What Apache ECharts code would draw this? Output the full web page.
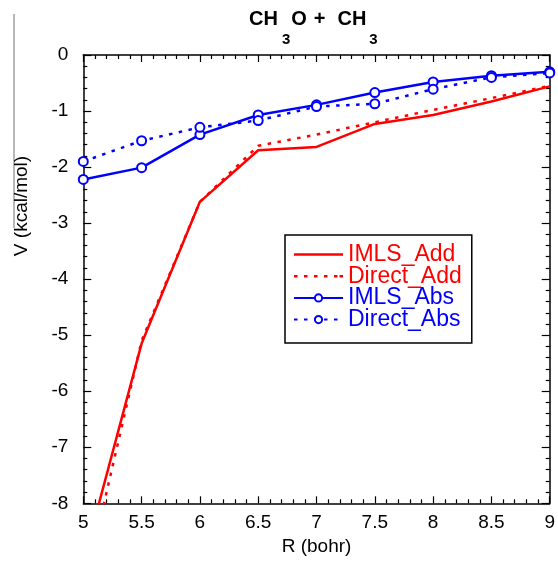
<!DOCTYPE html>
<html><head><meta charset="utf-8">
<script src="https://cdn.jsdelivr.net/npm/echarts@6/dist/echarts.min.js"></script>
<style>html,body{margin:0;padding:0;background:#fff}#c{width:558px;height:562px}</style>
</head><body><div id="c"></div>
<script>
// ---- data ----
const R = [5, 5.5, 6, 6.5, 7, 7.5, 8, 8.5, 9];
const imlsAdd   = [-9.05, -5.15, -2.62, -1.70, -1.64, -1.23, -1.07, -0.83, -0.56];
const directAdd = [-9.6, -5.1, -2.62, -1.62, -1.42, -1.20, -0.98, -0.77, -0.55];
const imlsAbs   = [-2.22, -2.01, -1.42, -1.07, -0.89, -0.67, -0.48, -0.37, -0.30];
const directAbs = [-1.90, -1.53, -1.29, -1.17, -0.92, -0.87, -0.61, -0.40, -0.32];
const seriesNames = ['IMLS_Add', 'Direct_Add', 'IMLS_Abs', 'Direct_Abs'];
const xTitle = 'R (bohr)';
const yTitle = 'V (kcal/mol)';

const FONT = 'Liberation Sans, Arial, sans-serif';
const RED = '#ff0000', BLUE = '#0000ff';
const pair = (ys) => R.map((x, i) => [x, ys[i]]);

const SOLID_ICON = 'path://M0,0H49V2.5H0Z';
const DOT_ICON = 'path://M0,0h3.5v2.5h-3.5z M10,0h3.5v2.5h-3.5z M20,0h3.5v2.5h-3.5z M30,0h3.5v2.5h-3.5z M40,0h3.5v2.5h-3.5z M45.5,0h3.5v2.5h-3.5z';

function xAx(pos, labels) {
  return {
    type: 'value', position: pos, min: 5, max: 9, interval: 0.5,
    axisLine: { show: true, onZero: false, lineStyle: { color: '#000', width: 1.5 } },
    axisTick: { show: true, inside: true, length: 7, lineStyle: { color: '#000', width: 1.2 } },
    minorTick: { show: true, splitNumber: 5, length: 4, lineStyle: { color: '#000', width: 1.2 } },
    splitLine: { show: false },
    axisLabel: { show: labels, margin: 10, fontSize: 19, color: '#000', fontFamily: FONT },
    name: labels ? xTitle : '', nameLocation: 'middle', nameGap: 33,
    nameTextStyle: { fontSize: 19, color: '#000', fontFamily: FONT }
  };
}
function yAx(pos, labels) {
  return {
    type: 'value', position: pos, min: -8, max: 0, interval: 1,
    axisLine: { show: true, onZero: false, lineStyle: { color: '#000', width: 1.5 } },
    axisTick: { show: true, inside: true, length: 8, lineStyle: { color: '#000', width: 1.2 } },
    minorTick: { show: true, splitNumber: 5, length: 4, lineStyle: { color: '#000', width: 1.2 } },
    splitLine: { show: false },
    axisLabel: { show: labels, margin: 15, fontSize: 19, color: '#000', fontFamily: FONT, padding: [0, 0, 7, 0] }
  };
}

const chart = echarts.init(document.getElementById('c'), null, { renderer: 'canvas' });
chart.setOption({
  animation: false,
  backgroundColor: '#fff',
  title: {
    text: '{m|CH}{s|3}{m|O}{p|+}{m|CH}{t|3}',
    left: 249, top: 9, padding: 0,
    textStyle: {
      rich: {
        m: { fontSize: 20, fontWeight: 'bold', fontFamily: FONT, color: '#000', lineHeight: 24, verticalAlign: 'top' },
        p: { fontSize: 20, fontWeight: 'bold', fontFamily: FONT, color: '#000', lineHeight: 24, verticalAlign: 'top', padding: [0, 12, 0, 7] },
        s: { fontSize: 15, fontWeight: 'bold', fontFamily: FONT, color: '#000', lineHeight: 16, verticalAlign: 'top', padding: [23, 1, 0, 4] },
        t: { fontSize: 15, fontWeight: 'bold', fontFamily: FONT, color: '#000', lineHeight: 16, verticalAlign: 'top', padding: [23, 0, 0, 3] }
      }
    }
  },
  grid: { left: 83.3, right: 2.3, top: 55, bottom: 58.7, containLabel: false },
  xAxis: [xAx('bottom', true), xAx('top', false)],
  yAxis: [yAx('left', true), yAx('right', false)],
  legend: {
    orient: 'vertical', left: 285, top: 235,
    padding: [8, 10, 12, 8],
    backgroundColor: '#fff', borderColor: '#000', borderWidth: 1.5,
    itemWidth: 49, itemHeight: 9, itemGap: -1.3,
    textStyle: { fontSize: 23, fontFamily: FONT, lineHeight: 21 },
    data: [
      { name: seriesNames[0], icon: SOLID_ICON, itemStyle: { color: RED }, textStyle: { color: RED } },
      { name: seriesNames[1], icon: DOT_ICON, itemStyle: { color: RED }, textStyle: { color: RED } },
      { name: seriesNames[2], textStyle: { color: BLUE } },
      { name: seriesNames[3], textStyle: { color: BLUE } }
    ]
  },
  graphic: [
    { type: 'line', shape: { x1: 14, y1: 14, x2: 14, y2: 228 }, style: { stroke: '#888', lineWidth: 1.2 }, silent: true },
    { type: 'text', x: 22, y: 206, rotation: Math.PI / 2,
      style: { text: yTitle, fontSize: 19, fontFamily: FONT, fill: '#000', align: 'center', verticalAlign: 'middle' } }
  ],
  series: [
    { name: seriesNames[0], type: 'line', data: pair(imlsAdd), symbol: 'none', clip: true,
      lineStyle: { color: RED, width: 2.5 }, itemStyle: { color: RED } },
    { name: seriesNames[1], type: 'line', data: pair(directAdd), symbol: 'none', clip: true,
      lineStyle: { color: RED, width: 2.5, type: [3.5, 6.5] }, itemStyle: { color: RED } },
    { name: seriesNames[2], type: 'line', data: pair(imlsAbs), symbol: 'emptyCircle', symbolSize: 9, clip: true,
      lineStyle: { color: BLUE, width: 2.5 }, itemStyle: { color: BLUE, borderWidth: 1.5 } },
    { name: seriesNames[3], type: 'line', data: pair(directAbs), symbol: 'emptyCircle', symbolSize: 9, clip: true,
      lineStyle: { color: BLUE, width: 2.5, type: [3.5, 6.5] }, itemStyle: { color: BLUE, borderWidth: 1.5 } }
  ]
});
</script></body></html>
